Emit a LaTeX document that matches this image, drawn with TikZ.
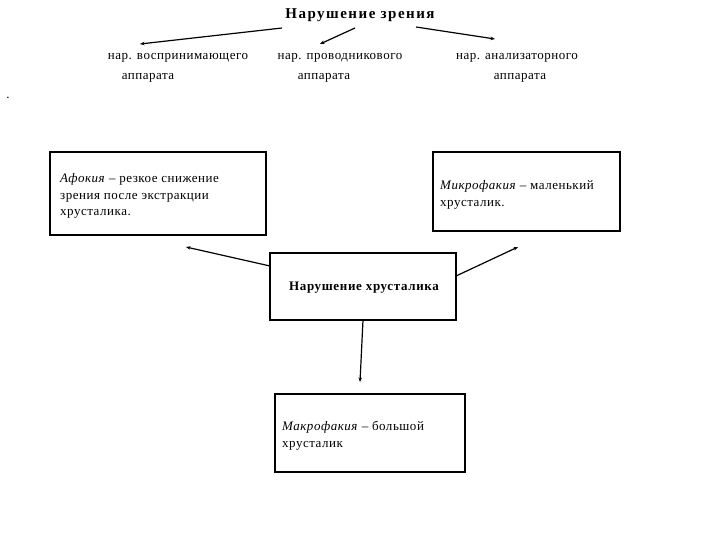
\documentclass[tikz,border=0pt]{standalone}
\usepackage{fontspec}
\setmainfont{Liberation Serif}
\usetikzlibrary{arrows.meta}
\newcommand{\txtfont}{\fontsize{13}{16.8}\selectfont\addfontfeature{LetterSpace=4}}
\begin{document}
\begin{tikzpicture}[x=1pt,y=-1pt,
  lbl/.style={inner sep=0pt,font=\txtfont},
  boxtxt/.style={inner sep=0pt,align=left,anchor=north west,font=\txtfont},
  frame/.style={draw,line width=1.6pt},
  arr/.style={line width=1.2pt,-{Stealth[length=4.5pt,width=3.5pt]}}]
\useasboundingbox (0,0) rectangle (720,540);
\node[inner sep=0pt,font=\fontsize{15}{18}\selectfont\bfseries\addfontfeature{LetterSpace=10}] (title) at (360,15) {Нарушение зрения};
\coordinate (t1) at (282,28);
\coordinate (t2) at (355,28);
\coordinate (t3) at (416,27);
\node[lbl] (l1) at (178,58) {нар. воспринимающего};
\node[lbl] (l1b) at (148,78) {аппарата};
\node[lbl] (l2) at (340,58) {нар. проводникового};
\node[lbl] (l2b) at (324,78) {аппарата};
\node[lbl] (l3) at (517,58) {нар. анализаторного};
\node[lbl] (l3b) at (520,78) {аппарата};
\coordinate (h1) at (140,44);
\coordinate (h2) at (320,44);
\coordinate (h3) at (495,39);
\draw[arr] (t1) -- (h1);
\draw[arr] (t2) -- (h2);
\draw[arr] (t3) -- (h3);
\node[inner sep=0pt,font=\txtfont] (dot) at (8,98) {.};
% boxes
\draw[frame] (50,152) rectangle (266,235);
\node[boxtxt] (afoktxt) at (60,173) {\textit{Афокия} – резкое снижение\\зрения после экстракции\\хрусталика.};
\draw[frame] (433,152) rectangle (620,231);
\node[boxtxt] (mikro) at (440,180) {\textit{Микрофакия} – маленький\\хрусталик.};
\draw[frame] (270,253) rectangle (456,320);
\node[inner sep=0pt,font=\fontsize{13}{16}\selectfont\bfseries\addfontfeature{LetterSpace=5}] (nar) at (364,288) {Нарушение хрусталика};
\draw[frame] (275,394) rectangle (465,472);
\node[boxtxt] (makro) at (282,421) {\textit{Макрофакия} – большой\\хрусталик};
\coordinate (a1s) at (270,266);
\coordinate (a1e) at (186,247);
\coordinate (a2s) at (456,276);
\coordinate (a2e) at (518,247);
\coordinate (a3s) at (363,320);
\coordinate (a3e) at (360,382);
\draw[arr] (a1s) -- (a1e);
\draw[arr] (a2s) -- (a2e);
\draw[arr] (a3s) -- (a3e);
\end{tikzpicture}
\end{document}
